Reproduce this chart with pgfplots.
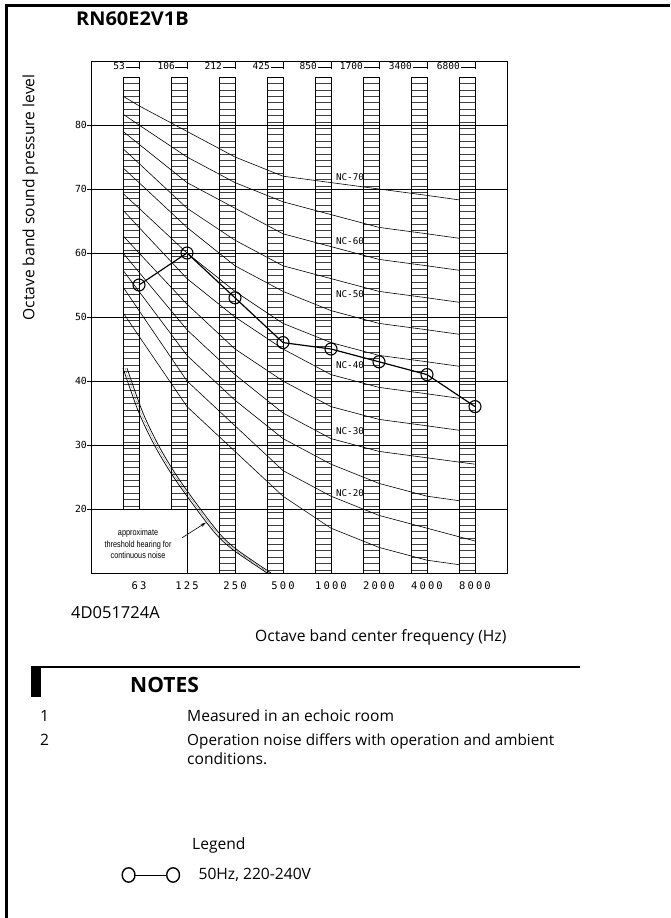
\documentclass[border=0pt]{standalone}
\usepackage{pgfplots}
\pgfplotsset{compat=1.18}
\usetikzlibrary{arrows.meta}
\usepackage{fontspec}
\setmainfont{Open Sans}
\newfontfamily\monofont{DejaVu Sans Mono}
\newfontfamily\lsmono[LetterSpace=20]{DejaVu Sans Mono}
\newfontfamily\narrowfont{Liberation Sans}
\newcommand{\bodysize}{\fontsize{15.6}{18}\selectfont}
\begin{document}
\begin{tikzpicture}[x=1pt,y=1pt]
\useasboundingbox (0,0) rectangle (670,918);
\draw[line width=3pt] (5.2,912.7) -- (670,912.7);
\draw[line width=3.3pt] (6.7,914.2) -- (6.7,0);
\begin{axis}[
  at={(91pt,345pt)}, anchor=south west,
  scale only axis, width=416pt, height=512pt,
  xmin=-1, xmax=7.6667, ymin=10, ymax=90,
  axis line style={line width=0.9pt},
  xtick={0,...,7},
  xticklabels={63,125,250,500,1000,2000,4000,8000},
  xtick style={draw=none},
  xticklabel style={font=\lsmono\fontsize{10.5}{12}\selectfont, yshift=-1.5pt},
  ytick={20,30,...,80},
  ytick pos=left,
  tick align=outside,
  major tick length=4pt,
  ytick style={line width=0.8pt, black},
  yticklabel style={font=\monofont\fontsize{9.8}{11}\selectfont, inner sep=0pt},
  /pgf/number format/assume math mode=true,
  ymajorgrids,
  grid style={line width=0.8pt, black},
  legend style={at={(axis description cs:0.0733,-0.5898)}, anchor=west, draw=none, fill=none,
    inner sep=0pt, outer sep=0pt, nodes={inner sep=0pt}, font=\bodysize},
  legend image code/.code={
    \draw[line width=0.8pt] (12.8pt,0pt) -- (44.7pt,0pt);
    \draw[line width=1.4pt] (6.5pt,0pt) ellipse[x radius=6.4pt, y radius=7.2pt];
    \draw[line width=1.4pt] (51pt,0pt) ellipse[x radius=6.4pt, y radius=7.2pt];
    \path[draw=none] (0pt,0pt) -- (76.5pt,0pt);
  },
  nc/.style={black, line width=0.6pt, mark=none, forget plot},
]
% ladders
\pgfplotsextra{
  \foreach \i in {0,1} {
    \pgfmathsetmacro{\xl}{\i-1/3}
    \foreach \k in {20.5,21.5,...,86.5} {\draw[line width=0.5pt, black!75] (axis cs:\xl,\k) -- (axis cs:\i,\k);}
    \draw[line width=0.7pt] (axis cs:\xl,20) rectangle (axis cs:\i,87.5);
  }
  \foreach \i in {2,...,7} {
    \pgfmathsetmacro{\xl}{\i-1/3}
    \foreach \k in {10.5,11.5,...,86.5} {\draw[line width=0.5pt, black!75] (axis cs:\xl,\k) -- (axis cs:\i,\k);}
    \draw[line width=0.7pt] (axis cs:\xl,10) rectangle (axis cs:\i,87.5);
  }
  \foreach \i in {0,...,7} {\draw[line width=0.7pt] (axis cs:\i,88.7) -- (axis cs:\i,90);}
}
\draw[line width=0.8pt] (axis cs:1,10) -- (axis cs:1,20);
% top band labels
\node[anchor=east, inner sep=0pt, font=\monofont\fontsize{9.5}{10}\selectfont] at (axis cs:-0.2917,89.2) {53};
\node[anchor=east, inner sep=0pt, font=\monofont\fontsize{9.5}{10}\selectfont] at (axis cs:0.75,89.2) {106};
\node[anchor=east, inner sep=0pt, font=\monofont\fontsize{9.5}{10}\selectfont] at (axis cs:1.729,89.2) {212};
\node[anchor=east, inner sep=0pt, font=\monofont\fontsize{9.5}{10}\selectfont] at (axis cs:2.729,89.2) {425};
\node[anchor=east, inner sep=0pt, font=\monofont\fontsize{9.5}{10}\selectfont] at (axis cs:3.708,89.2) {850};
\node[anchor=east, inner sep=0pt, font=\monofont\fontsize{9.5}{10}\selectfont] at (axis cs:4.667,89.2) {1700};
\node[anchor=east, inner sep=0pt, font=\monofont\fontsize{9.5}{10}\selectfont] at (axis cs:5.6875,89.2) {3400};
\node[anchor=east, inner sep=0pt, font=\monofont\fontsize{9.5}{10}\selectfont] at (axis cs:6.6875,89.2) {6800};
\draw[line width=0.6pt] (axis cs:-0.28,89) -- (axis cs:0,89);
\draw[line width=0.6pt] (axis cs:0.76,89) -- (axis cs:1,89);
\draw[line width=0.6pt] (axis cs:1.74,89) -- (axis cs:2,89);
\draw[line width=0.6pt] (axis cs:2.74,89) -- (axis cs:3,89);
\draw[line width=0.6pt] (axis cs:3.72,89) -- (axis cs:4,89);
\draw[line width=0.6pt] (axis cs:4.68,89) -- (axis cs:5,89);
\draw[line width=0.6pt] (axis cs:5.70,89) -- (axis cs:6,89);
\draw[line width=0.6pt] (axis cs:6.70,89) -- (axis cs:7,89);
% NC curves
\addplot[nc] coordinates {(-0.3333,84.5)(0,83)(1,79)(2,75)(3,72)(4,71)(5,70)(6,69)(6.6667,68.3)};
\addplot[nc] coordinates {(-0.3333,81.7)(0,80)(1,75)(2,71)(3,68)(4,66)(5,64)(6,63)(6.6667,62.3)};
\addplot[nc] coordinates {(-0.3333,79)(0,77)(1,71)(2,67)(3,63)(4,61)(5,59)(6,58)(6.6667,57.3)};
\addplot[nc] coordinates {(-0.3333,76.3)(0,74)(1,67)(2,62)(3,58)(4,56)(5,54)(6,53)(6.6667,52.3)};
\addplot[nc] coordinates {(-0.3333,73.3)(0,71)(1,64)(2,58)(3,54)(4,51)(5,49)(6,48)(6.6667,47.3)};
\addplot[nc] coordinates {(-0.3333,69.3)(0,67)(1,60)(2,54)(3,49)(4,46)(5,44)(6,43)(6.6667,42.3)};
\addplot[nc] coordinates {(-0.3333,66.7)(0,64)(1,56)(2,50)(3,45)(4,41)(5,39)(6,38)(6.6667,37.3)};
\addplot[nc] coordinates {(-0.3333,62.7)(0,60)(1,52)(2,45)(3,40)(4,36)(5,34)(6,33)(6.6667,32.3)};
\addplot[nc] coordinates {(-0.3333,60)(0,57)(1,48)(2,41)(3,35)(4,31)(5,29)(6,28)(7,27)};
\addplot[nc] coordinates {(-0.3333,57.3)(0,54)(1,44)(2,37)(3,31)(4,27)(5,24)(6,22)(6.6667,21.3)};
\addplot[nc] coordinates {(-0.3333,54.7)(0,51)(1,40)(2,33)(3,26)(4,22)(5,19)(6,17)(7,15)};
\addplot[nc] coordinates {(-0.3333,50.7)(0,47)(1,36)(2,29)(3,22)(4,17)(5,14)(6,12)(6.6667,11.3)};
% threshold of hearing (double line)
\addplot[black, line width=0.7pt, smooth, tension=0.5, forget plot] coordinates {(-0.3333,42)(0,35)(0.3333,29.8)(0.6667,25.6)(1,22)(1.4167,17.8)(1.6875,15.4)(2,13.4)(2.6667,10)};
\addplot[black, line width=0.45pt, densely dotted, smooth, tension=0.5, forget plot] coordinates {(-0.2917,42)(0.0417,35)(0.375,29.8)(0.7083,25.6)(1.0417,22)(1.4583,17.8)(1.7292,15.4)(2.0417,13.4)(2.7083,10)};
\addplot[black, line width=0.7pt, smooth, tension=0.5, forget plot] coordinates {(-0.25,42)(0.0833,35)(0.4167,29.8)(0.75,25.6)(1.0833,22)(1.5,17.8)(1.7708,15.4)(2.0833,13.4)(2.75,10)};
\draw[line width=0.6pt, -{Stealth[length=6pt, width=3pt]}] (axis cs:0.896,15.5) -- (axis cs:1.40,17.9);
\node[inner sep=0pt] at (axis cs:-0.02,14.4) {\scalebox{0.81}[1]{\narrowfont\fontsize{9}{11.5}\selectfont\begin{tabular}{@{}c@{}}approximate\\threshold hearing for\\continuous noise\end{tabular}}};
% NC labels
\node[inner sep=0pt, font=\monofont\fontsize{9.3}{10}\selectfont] at (axis cs:4.396,71.9) {NC-70};
\node[inner sep=0pt, font=\monofont\fontsize{9.3}{10}\selectfont] at (axis cs:4.396,61.9) {NC-60};
\node[inner sep=0pt, font=\monofont\fontsize{9.3}{10}\selectfont] at (axis cs:4.396,53.6) {NC-50};
\node[inner sep=0pt, font=\monofont\fontsize{9.3}{10}\selectfont] at (axis cs:4.396,42.5) {NC-40};
\node[inner sep=0pt, font=\monofont\fontsize{9.3}{10}\selectfont] at (axis cs:4.396,32.2) {NC-30};
\node[inner sep=0pt, font=\monofont\fontsize{9.3}{10}\selectfont] at (axis cs:4.396,22.5) {NC-20};
% measured
\addplot[black, line width=1.2pt, mark=o, mark size=6pt, mark options={line width=1.1pt}] coordinates {(0,55)(1,60)(2,53)(3,46)(4,45)(5,43)(6,41)(7,36)};
\addlegendentry{50Hz, 220-240V}
\end{axis}
\node[anchor=base west, inner sep=0pt] at (76,892) {\scalebox{1.05}[1]{\bfseries\fontsize{19}{21}\selectfont RN60E2V1B}};
\node[anchor=base, rotate=90, inner sep=0pt, font=\bodysize] at (34.5,720.5) {Octave band sound pressure level};
\node[anchor=base west, inner sep=0pt, font=\fontsize{16.5}{18}\selectfont] at (71,299) {4D051724A};
\node[anchor=base west, inner sep=0pt, font=\bodysize] at (255,276.5) {Octave band center frequency (Hz)};
\draw[line width=1.3pt] (31,251) -- (580,251);
\fill (31,221) rectangle (41,251);
\node[anchor=base west, inner sep=0pt, font=\bfseries\fontsize{21}{24}\selectfont] at (130,225) {NOTES};
\node[anchor=base west, inner sep=0pt, font=\bodysize] at (40,196.5) {1};
\node[anchor=base west, inner sep=0pt, font=\bodysize] at (187,196.5) {Measured in an echoic room};
\node[anchor=base west, inner sep=0pt, font=\bodysize] at (40,172) {2};
\node[anchor=base west, inner sep=0pt, font=\fontsize{15.3}{18}\selectfont] at (187,172) {Operation noise differs with operation and ambient};
\node[anchor=base west, inner sep=0pt, font=\bodysize] at (187,153) {conditions.};
\node[anchor=base west, inner sep=0pt, font=\bodysize] at (192,68) {Legend};
\end{tikzpicture}
\end{document}
